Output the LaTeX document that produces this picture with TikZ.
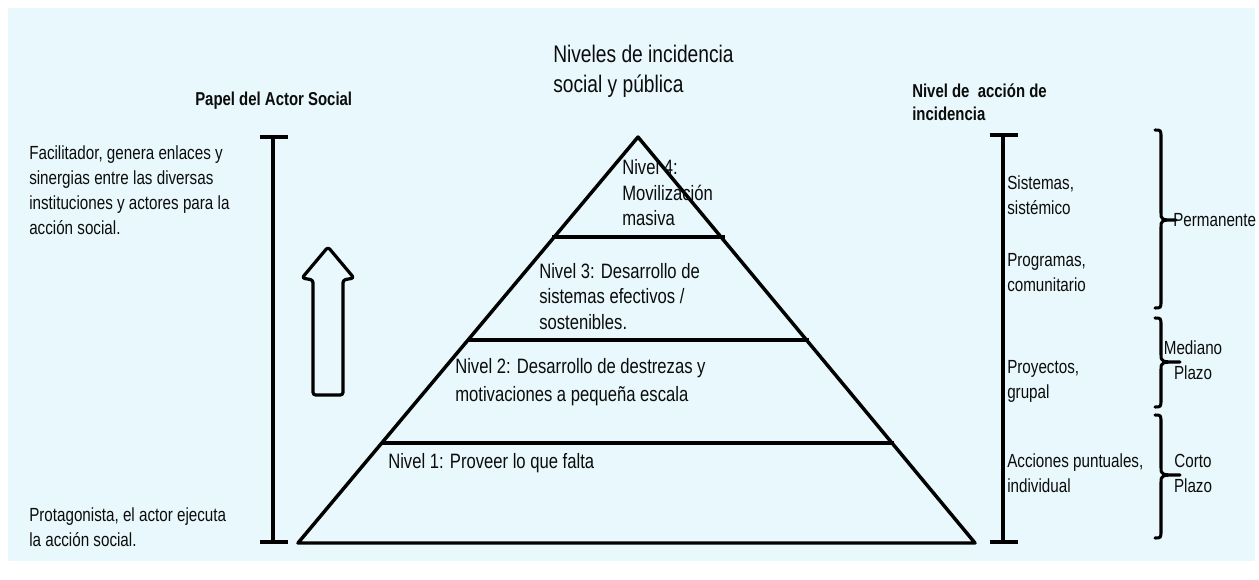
\documentclass[tikz,border=0pt]{standalone}
\usepackage{fontspec}
\setmainfont[FakeStretch=0.8]{Liberation Sans}
\definecolor{bgc}{RGB}{233,248,252}
\definecolor{txt}{RGB}{12,12,12}
\tikzset{
  lbl/.style={anchor=west, inner sep=0pt, align=left, text=txt},
  ctr/.style={anchor=center, inner sep=0pt, align=center, text=txt},
  thick line/.style={line width=2.6pt, line cap=round, line join=round},
  bar/.style={line width=2.3pt},
  capline/.style={line width=3pt},
  bracepath/.style={line width=2.3pt, line cap=round, line join=round},
  sidefont/.style={font=\fontsize{14.25pt}{18.75pt}\selectfont},
  pyrfont/.style={font=\fontsize{15.6pt}{19.1pt}\selectfont},
  rightfont/.style={font=\fontsize{14.25pt}{18.6pt}\selectfont},
  headfont/.style={font=\fontsize{18pt}{22.5pt}\selectfont},
  boldfont/.style={font=\bfseries\fontsize{14pt}{17.25pt}\selectfont},
}
\begin{document}
\begin{tikzpicture}[x=0.75pt, y=-0.75pt]
\useasboundingbox (0,0) rectangle (1259,579);
\fill[white] (0,0) rectangle (1259,579);
\fill[bgc] (8,8) rectangle (1255,561);

% headings
\node[lbl, headfont] (title) at (553,71) {Niveles de incidencia\\social y pública};
\node[lbl, boldfont] (papel) at (195,101) {Papel del Actor Social};
\node[lbl, boldfont] (nivelaccion) at (912,102.5) {Nivel de\ \ acción de\\incidencia};

% left texts
\node[lbl, sidefont] (facil) at (29,190.5) {Facilitador, genera enlaces y\\sinergias entre las diversas\\instituciones y actores para la\\acción social.};
\node[lbl, sidefont] (protag) at (29,527.5) {Protagonista, el actor ejecuta\\la acción social.};

% left bar
\coordinate (lt) at (273,137);
\coordinate (lb) at (273,542);
\draw[bar] (lt) -- (lb);
\draw[capline] ([xshift=-10]lt) -- ([xshift=11]lt);
\draw[capline] ([xshift=-10]lb) -- ([xshift=11]lb);

% hollow arrow
\draw[line width=2.4pt, line join=round, rounded corners=2pt]
  (328,247) -- (354,278) -- (343,280) -- (343,395) -- (313,395) -- (313,280) -- (302,278) -- cycle;

% pyramid
\coordinate (apex) at (638,137);
\coordinate (bl) at (298,543);
\coordinate (br) at (975,543);
\draw[thick line] (apex) -- (bl) -- (br) -- cycle;
\draw[line width=3pt] (552,237) -- (725,237);
\draw[line width=3pt] (467,340) -- (809,340);
\draw[line width=3pt] (381,443) -- (894,443);

\node[lbl, pyrfont] (n4) at (622,193) {Nivel 4:\\Movilización\\masiva};
\node[lbl, pyrfont] (n3) at (539,296.5) {Nivel 3: Desarrollo de\\sistemas efectivos /\\sostenibles.};
\node[lbl, font=\fontsize{15.6pt}{21pt}\selectfont] (n2) at (455,382) {Nivel 2: Desarrollo de destrezas y\\motivaciones a pequeña escala};
\node[lbl, pyrfont] (n1) at (388,463) {Nivel 1: Proveer lo que falta};

% right bar
\coordinate (rt) at (1003,135);
\coordinate (rb) at (1003,542);
\draw[bar] (rt) -- (rb);
\draw[capline] ([xshift=-10]rt) -- ([xshift=11]rt);
\draw[capline] ([xshift=-10]rb) -- ([xshift=11]rb);

\node[lbl, rightfont] (sis) at (1007,195.5) {Sistemas,\\sistémico};
\node[lbl, rightfont] (prog) at (1007,272.5) {Programas,\\comunitario};
\node[lbl, rightfont] (proy) at (1007,381.5) {Proyectos,\\grupal};
\node[lbl, rightfont] (acc) at (1007,473) {Acciones puntuales,\\individual};

% braces
\draw[bracepath] (1155,130) .. controls (1161,130) .. (1161,138) -- (1161,212)
  .. controls (1161,220) .. (1176,220) .. controls (1161,220) .. (1161,228)
  -- (1161,300) .. controls (1161,308) .. (1155,308);
\draw[bracepath] (1155,318) .. controls (1161,318) .. (1161,326) -- (1161,354)
  .. controls (1161,362) .. (1180,362) .. controls (1161,362) .. (1161,370)
  -- (1161,399) .. controls (1161,407) .. (1155,407);
\draw[bracepath] (1155,415) .. controls (1161,415) .. (1161,423) -- (1161,467)
  .. controls (1161,475) .. (1180,475) .. controls (1161,475) .. (1161,483)
  -- (1161,530) .. controls (1161,538) .. (1155,538);

\node[lbl, rightfont] (perm) at (1173,220) {Permanente};
\node[ctr, rightfont] (med) at (1193,360) {Mediano\\Plazo};
\node[ctr, rightfont] (corto) at (1193,473.5) {Corto\\Plazo};
\end{tikzpicture}
\end{document}
